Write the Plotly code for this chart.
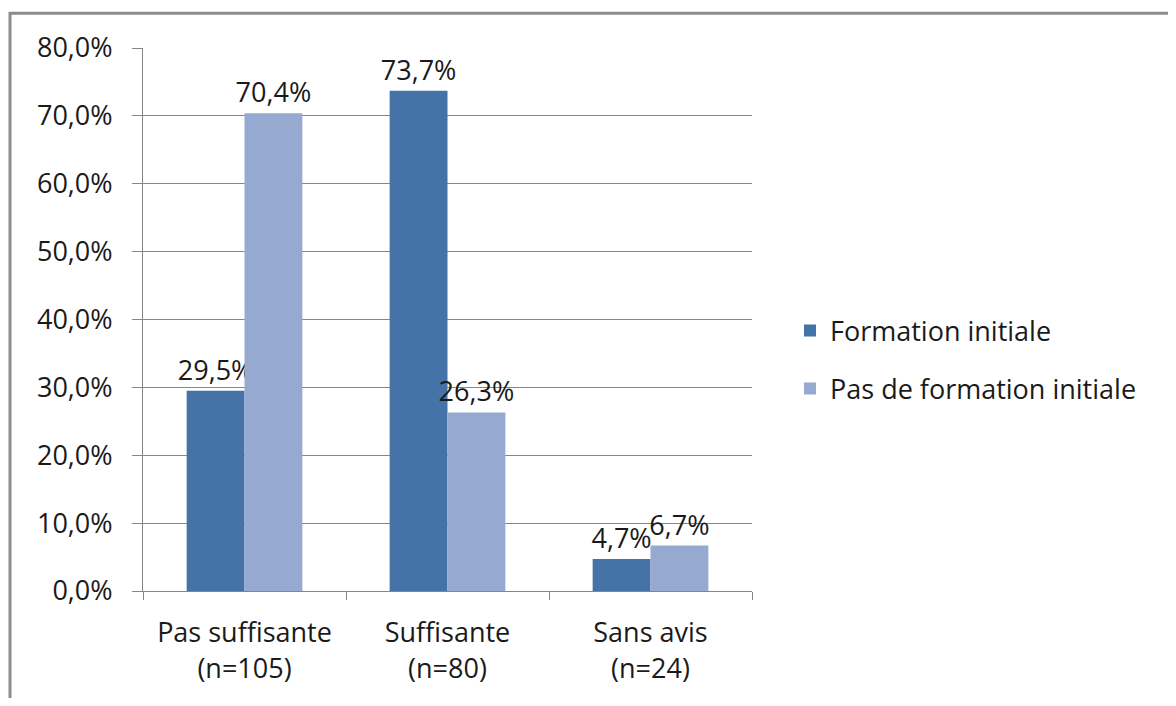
import plotly.graph_objects as go

# Données
categories = ["Pas suffisante<br>(n=105)", "Suffisante<br>(n=80)", "Sans avis<br>(n=24)"]
formation_initiale = [29.5, 73.7, 4.7]
pas_de_formation = [70.4, 26.3, 6.7]
y_ticks = [0, 10, 20, 30, 40, 50, 60, 70, 80]

font_family = "'Open Sans', Lato, sans-serif"
grey = "#868686"
fs = 27

# la page a une marge de 8px autour de la figure
W, H = 1160, 690
L, T = 135, 40
PW, PH = 609, 545

fig = go.Figure()
fig.add_trace(go.Bar(
    x=categories, y=[v / 100 for v in formation_initiale],
    name="Formation initiale", legendgroup="a",
    marker=dict(color="#4572A7", line=dict(width=0)),
    texttemplate="%{y:.1%}", textposition="outside", cliponaxis=False,
))
fig.add_trace(go.Bar(
    x=categories, y=[v / 100 for v in pas_de_formation],
    name="Pas de formation initiale", legendgroup="b",
    marker=dict(color="#95A9D1", line=dict(width=0)),
    texttemplate="%{y:.1%}", textposition="outside", cliponaxis=False,
))

fig.update_traces(textfont=dict(size=fs, color="#1a1a1a"), constraintext="none")

fig.update_layout(
    width=W, height=H,
    margin=dict(l=L, r=W - L - PW, t=T, b=H - T - PH),
    paper_bgcolor="white", plot_bgcolor="white",
    font=dict(family=font_family, size=fs, color="#1a1a1a"),
    separators=", ",
    barmode="group", bargap=0.43, bargroupgap=0,
    showlegend=True,
    legend=dict(x=(782 - L) / PW, y=1 - (353 - T) / PH, xanchor="left", yanchor="middle",
                font=dict(size=fs), tracegroupgap=20, bgcolor="rgba(0,0,0,0)"),
    xaxis=dict(tickson="boundaries", ticks="outside", ticklen=8, tickcolor=grey,
               showline=True, linecolor=grey, linewidth=1, showgrid=False,
               ticklabelstandoff=18),
    yaxis=dict(range=[0, 0.8], tickvals=[t / 100 for t in y_ticks], tickformat=".1%",
               ticks="outside", ticklen=10, tickcolor=grey,
               showline=True, linecolor=grey, linewidth=1,
               showgrid=True, gridcolor=grey, gridwidth=1, zeroline=False,
               ticklabelstandoff=14),
    shapes=[dict(type="rect", xref="paper", yref="paper",
                 x0=(2 - L) / PW, x1=2, y0=-1, y1=1 + (T - 5) / PH,
                 line=dict(color="#8c8c8c", width=3))],
)

fig.write_html("out.html")
